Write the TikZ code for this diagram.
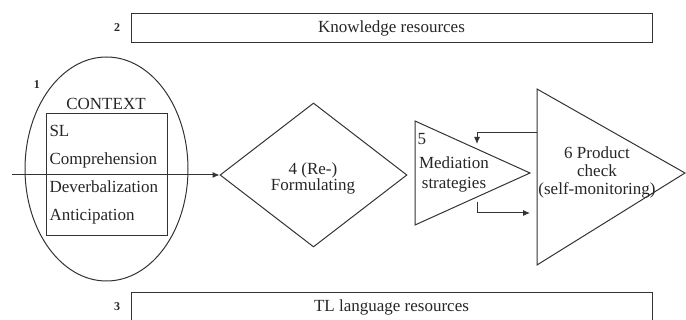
\documentclass[tikz,border=0pt]{standalone}
\usepackage{fontspec}
\setmainfont{Liberation Serif}
\usetikzlibrary{shapes.geometric,arrows.meta}
\begin{document}
\begin{tikzpicture}[x=1pt, y=-1pt, line width=1pt, draw=black!80, text=black!85,
	font=\fontsize{17}{20}\selectfont, >={Latex[length=7pt,width=6pt]},
	resbox/.style={draw, minimum width=521pt, minimum height=29pt, inner sep=0pt},
	numlbl/.style={font=\fontsize{12}{14}\selectfont\bfseries},
	ctxline/.style={anchor=base west, inner sep=2pt}]
	\useasboundingbox (0,0) rectangle (686,320);
	
	% resources
	\node[numlbl] (n2) at (117,28) {2};
	\node[resbox] (know) at (391.5,28.5) {Knowledge resources};
	\node[numlbl] (n3) at (117,307) {3};
	\node[resbox] (tl) at (391.5,307.5) {TL language resources};
	
	% context
	\node[ellipse, draw, minimum width=163pt, minimum height=224pt, inner sep=0pt] (ctx) at (106.5,169) {};
	\node[numlbl] (n1) at (37,85) {1};
	\node[anchor=base] (ctxlbl) at (106,110) {CONTEXT};
	\node[draw, minimum width=121pt, minimum height=122pt, inner sep=0pt] (sl) at (106.5,175) {};
	\node[ctxline] (c1) at (47,137) {SL};
	\node[ctxline] (c2) at (47,165) {Comprehension};
	\node[ctxline] (c3) at (47,193) {Deverbalization};
	\node[ctxline] (c4) at (47,221) {Anticipation};
	
	% (re-)formulating
	\node[diamond, draw, minimum width=187pt, minimum height=144pt, inner sep=0pt] (form) at (313.5,175) {};
	\node[align=center, font=\fontsize{17}{16}\selectfont] (formtxt) at (313,178) {4 (Re-)\\Formulating};
	\coordinate (start) at (12,175);
	\draw[->] (start) -- (form.west);
	
	% mediation
	\coordinate (m1) at (415,121);
	\coordinate (m2) at (415,225);
	\coordinate (m3) at (530,173);
	\draw (m1) -- (m2) -- (m3) -- cycle;
	\node[anchor=base west, inner sep=1pt] (n5) at (416,145) {5};
	\node[align=center, font=\fontsize{17}{20}\selectfont] (med) at (454,174) {Mediation\\strategies};
	
	% product check
	\coordinate (p1) at (537,89);
	\coordinate (p2) at (537,265);
	\coordinate (p3) at (685,173);
	\draw (p1) -- (p2) -- (p3) -- cycle;
	\node[align=center, font=\fontsize{17}{18}\selectfont] (prod) at (597,172) {6 Product\\check\\(self-monitoring)};
	
	\coordinate (fb1) at (537,133);
	\coordinate (fb2) at (477,144);
	\draw[->] (fb1) -| (fb2);
	\coordinate (ff1) at (477,202);
	\coordinate (ff2) at (530,213);
	\draw[->] (ff1) |- (ff2);
	
\end{tikzpicture}
\end{document}
